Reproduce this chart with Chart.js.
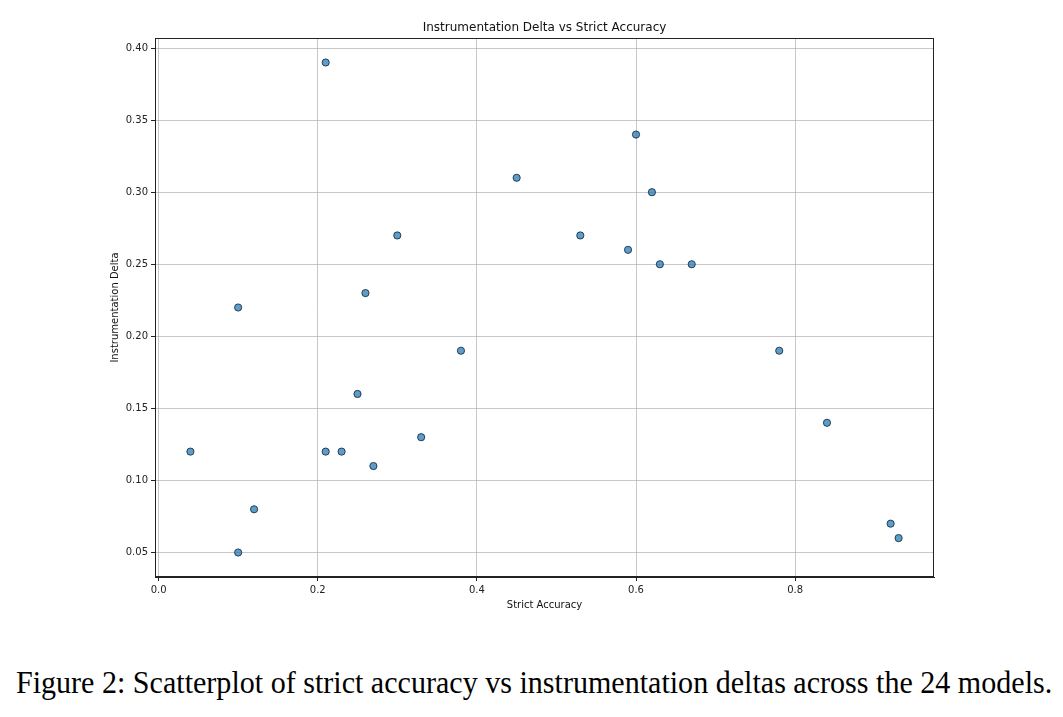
<!DOCTYPE html>
<html>
<head>
<meta charset="utf-8">
<script src="https://cdn.jsdelivr.net/npm/chart.js@4"></script>
<style>
  body { margin: 0; background: #fff; width: 1063px; height: 717px; overflow: hidden; }
  #wrap { position: absolute; left: 0; top: 0; width: 1063px; height: 613px; }
  #caption {
    position: absolute; left: 0; top: 665px; width: 1063px; text-align: center;
    font-family: "Liberation Serif", serif; font-size: 31px; color: #000;
    transform: scaleX(0.97); transform-origin: 531px 0; white-space: nowrap;
  }
</style>
</head>
<body>
<div id="wrap"><canvas id="scatter"></canvas></div>
<div id="caption">Figure 2: Scatterplot of strict accuracy vs instrumentation deltas across the 24 models.</div>
<script>
// strict accuracy vs instrumentation delta, one point per model
var accuracy = [0.04, 0.10, 0.10, 0.12, 0.21, 0.21, 0.23, 0.25, 0.26, 0.27, 0.30, 0.33,
                0.38, 0.45, 0.53, 0.59, 0.60, 0.62, 0.63, 0.67, 0.78, 0.84, 0.92, 0.93];
var delta    = [0.12, 0.22, 0.05, 0.08, 0.39, 0.12, 0.12, 0.16, 0.23, 0.11, 0.27, 0.13,
                0.19, 0.31, 0.27, 0.26, 0.34, 0.30, 0.25, 0.25, 0.19, 0.14, 0.07, 0.06];
var xTicks = [0.0, 0.2, 0.4, 0.6, 0.8];
var yTicks = [0.05, 0.10, 0.15, 0.20, 0.25, 0.30, 0.35, 0.40];
var chartTitle = 'Instrumentation Delta vs Strict Accuracy';

window.onload = function() {
    var ctx = document.getElementById('scatter').getContext('2d');
    Chart.defaults.font.family = 'DejaVu Sans';
    Chart.defaults.color = '#222';

    var points = accuracy.map(function(a, i) { return {x: a, y: delta[i]}; });

    // box around the plot area (matplotlib spines) + title centred on it
    var frame = {
        id: 'frame',
        afterDraw: function(chart) {
            var c = chart.ctx, a = chart.chartArea;
            c.save();
            c.strokeStyle = '#222';
            c.lineWidth = 1;
            c.strokeRect(a.left + 0.5, a.top + 0.5, a.right - a.left - 1, a.bottom - a.top - 1);
            c.fillStyle = '#111';
            c.font = '12px "DejaVu Sans"';
            c.textAlign = 'center';
            c.textBaseline = 'middle';
            c.fillText(chartTitle, (a.left + a.right) / 2, a.top - 10);
            c.restore();
        }
    };

    new Chart(ctx, {
        type: 'scatter',
        data: {
            datasets: [{
                label: 'models',
                data: points,
                backgroundColor: 'rgba(31,119,180,0.72)',
                borderColor: 'rgba(20,40,60,0.85)',
                borderWidth: 1,
                pointRadius: 3.6,
                pointHoverRadius: 3.6
            }]
        },
        options: {
            responsive: true,
            maintainAspectRatio: false,
            animation: false,
            layout: { padding: { top: 38, right: 129, left: 105, bottom: 0 } },
            plugins: {
                legend: { display: false },
                tooltip: { enabled: false },
                title: { display: false }
            },
            scales: {
                x: {
                    type: 'linear',
                    min: -0.0045,
                    max: 0.9745,
                    afterBuildTicks: function(s) { s.ticks = xTicks.map(function(v) { return {value: v}; }); },
                    afterFit: function(s) { s.height = 36; },
                    ticks: { font: { size: 10 }, color: '#222', padding: 3,
                             callback: function(v) { return v.toFixed(1); } },
                    grid: { color: 'rgba(176,176,176,0.7)', tickColor: '#222', tickLength: 4 },
                    border: { color: '#222' },
                    title: { display: true, text: 'Strict Accuracy', font: { size: 10 }, color: '#111', padding: { top: 2, bottom: 2 } }
                },
                y: {
                    type: 'linear',
                    min: 0.033,
                    max: 0.407,
                    afterBuildTicks: function(s) { s.ticks = yTicks.map(function(v) { return {value: v}; }); },
                    afterFit: function(s) { s.width = 50; },
                    ticks: { font: { size: 10 }, color: '#222', padding: 3,
                             callback: function(v) { return v.toFixed(2); } },
                    grid: { color: 'rgba(176,176,176,0.7)', tickColor: '#222', tickLength: 4 },
                    border: { color: '#222' },
                    title: { display: true, text: 'Instrumentation Delta', font: { size: 10 }, color: '#111', padding: { top: 4, bottom: 4 } }
                }
            }
        },
        plugins: [frame]
    });
};
</script>
</body>
</html>
